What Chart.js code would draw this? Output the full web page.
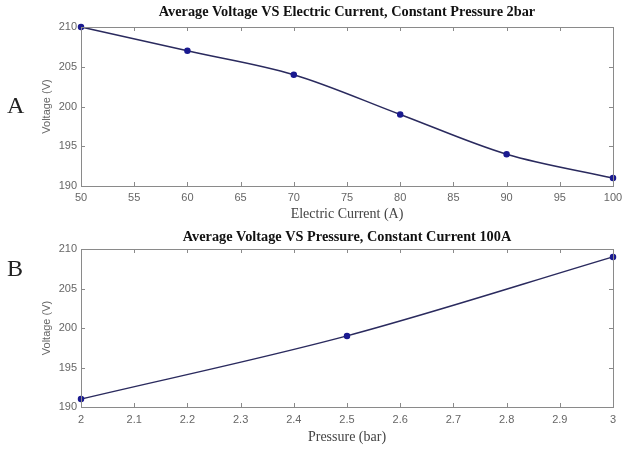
<!DOCTYPE html>
<html>
<head>
<meta charset="utf-8">
<script src="https://cdn.jsdelivr.net/npm/chart.js@4"></script>
<style>
  body { margin: 0; background: #fff; }
  .wrap { position: absolute; left: 0; width: 623px; height: 225px; }
  .tag { position: absolute; left: 7px; font: 24px "Liberation Serif", "Times New Roman", serif; color: #222; }
</style>
</head>
<body>
<div class="wrap" style="top:0"><canvas id="chartA"></canvas></div>
<div class="wrap" style="top:225px"><canvas id="chartB"></canvas></div>
<div class="tag" style="top:92px">A</div>
<div class="tag" style="top:255px">B</div>
<script>
const currentA = [50, 60, 70, 80, 90, 100];
const voltageA = [210, 207, 204, 199, 194, 191];
const pressureB = [2, 2.5, 3];
const voltageB = [191, 199, 209];

const axisGray = "#8a8a8a";
const tickGray = "#666";

// MATLAB-like box with inward ticks on all four sides, title centred over the plot area
const boxTicks = {
    id: "boxTicks",
    afterDraw(chart, args, opts) {
        const ctx = chart.ctx;
        const a = chart.chartArea;
        const x = chart.scales.x, y = chart.scales.y;
        ctx.save();
        ctx.strokeStyle = axisGray;
        ctx.lineWidth = 1;
        ctx.strokeRect(Math.round(a.left) + 0.5, Math.round(a.top) + 0.5, Math.round(a.right - a.left), Math.round(a.bottom - a.top));
        ctx.beginPath();
        x.ticks.forEach(t => {
            const px = Math.round(x.getPixelForValue(t.value)) + 0.5;
            ctx.moveTo(px, a.bottom); ctx.lineTo(px, a.bottom - 4);
            ctx.moveTo(px, a.top); ctx.lineTo(px, a.top + 4);
        });
        y.ticks.forEach(t => {
            const py = Math.round(y.getPixelForValue(t.value)) + 0.5;
            ctx.moveTo(a.left, py); ctx.lineTo(a.left + 4, py);
            ctx.moveTo(a.right, py); ctx.lineTo(a.right - 4, py);
        });
        ctx.stroke();

        ctx.fillStyle = "#111";
        ctx.font = "bold 14.3px 'Liberation Serif'";
        ctx.textAlign = "center";
        ctx.textBaseline = "middle";
        ctx.fillText(opts.text, (a.left + a.right) / 2, opts.y);
        ctx.restore();
    }
};

function makeChart(id, xs, ys, title, xTitle, xMin, xMax, xStep, opt) {
    return new Chart(document.getElementById(id), {
        type: "line",
        data: {
            datasets: [{
                data: xs.map((v, i) => ({x: v, y: ys[i]})),
                borderColor: "#2a2a5e",
                borderWidth: 1.5,
                pointRadius: 2.5,
                pointBackgroundColor: "#1a1a90",
                pointBorderColor: "#1a1a90",
                cubicInterpolationMode: "monotone",
                clip: false
            }]
        },
        options: {
            responsive: true,
            maintainAspectRatio: false,
            animation: false,
            layout: { padding: { left: 36, right: 10, top: opt.top, bottom: 0 } },
            plugins: {
                legend: { display: false },
                tooltip: { enabled: false },
                title: { display: false },
                boxTicks: { text: title, y: 12 }
            },
            scales: {
                x: {
                    type: "linear",
                    min: xMin, max: xMax,
                    grid: { display: false, drawTicks: false },
                    border: { display: false },
                    afterFit: s => { s.height = opt.xHeight; s.paddingLeft = 0; s.paddingRight = 0; },
                    ticks: {
                        stepSize: xStep,
                        padding: opt.xTickPad,
                        color: tickGray,
                        font: { family: "Liberation Sans", size: 11 },
                        maxRotation: 0,
                        callback: v => String(+v.toFixed(1))
                    },
                    title: {
                        display: true,
                        text: xTitle,
                        color: "#444",
                        font: { family: "Liberation Serif", size: 14 },
                        padding: { top: 0, bottom: opt.xTitlePad }
                    }
                },
                y: {
                    min: 190, max: 210,
                    grid: { display: false, drawTicks: false },
                    border: { display: false },
                    afterFit: s => { s.width = 45; },
                    ticks: {
                        stepSize: 5,
                        padding: 4,
                        color: tickGray,
                        font: { family: "Liberation Sans", size: 11 }
                    },
                    title: {
                        display: true,
                        text: "Voltage (V)",
                        color: tickGray,
                        font: { family: "Liberation Sans", size: 11 },
                        padding: { top: 4, bottom: 0 }
                    }
                }
            }
        },
        plugins: [boxTicks]
    });
}

makeChart("chartA", currentA, voltageA,
    "Average Voltage VS Electric Current, Constant Pressure 2bar",
    "Electric Current (A)", 50, 100, 5,
    { top: 27, xHeight: 39, xTickPad: 5, xTitlePad: 2.6 });

makeChart("chartB", pressureB, voltageB,
    "Average Voltage VS Pressure, Constant Current 100A",
    "Pressure (bar)", 2, 3, 0.1,
    { top: 24, xHeight: 43, xTickPad: 6.4, xTitlePad: 4.6 });
</script>
</body>
</html>
